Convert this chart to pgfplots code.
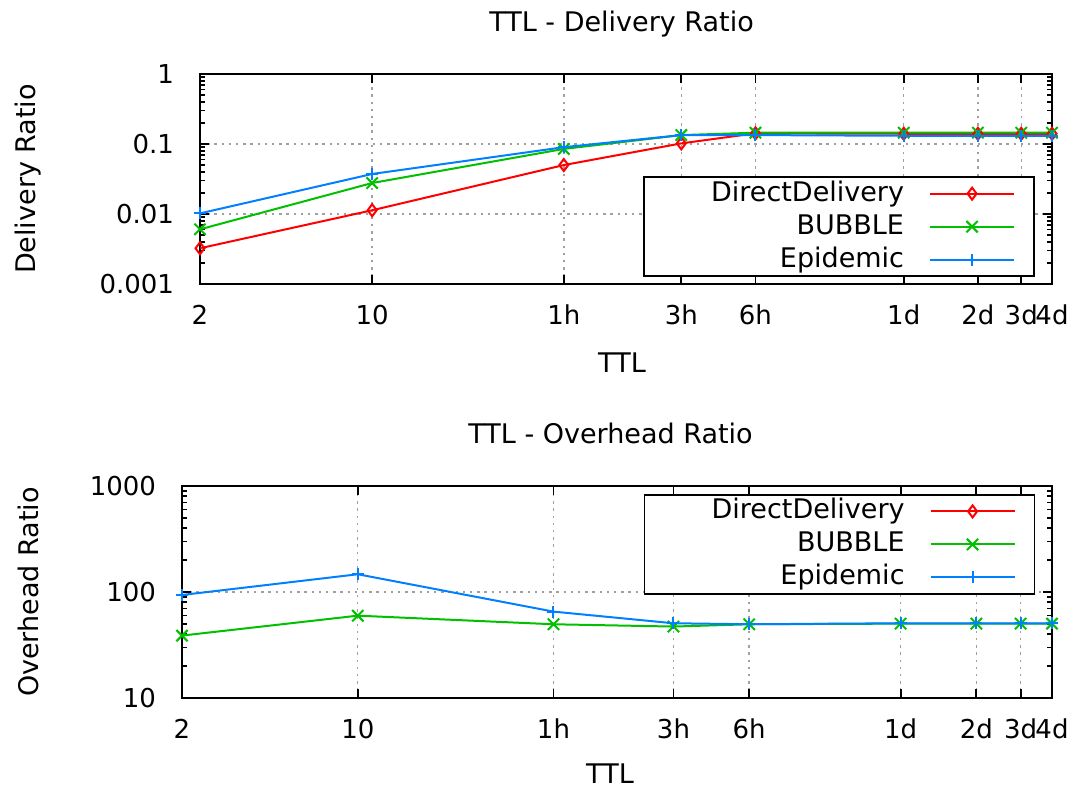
\documentclass[border=0pt]{standalone}
\usepackage{fontspec}
\setmainfont{DejaVu Sans}
\usepackage{pgfplots}
\pgfplotsset{compat=1.18}
\definecolor{gpred}{RGB}{255,0,0}
\definecolor{gpgreen}{RGB}{0,192,0}
\definecolor{gpblue}{RGB}{0,128,255}
\definecolor{gridgray}{RGB}{160,160,160}
\newcommand{\legtxt}[1]{\makebox[120.5pt][r]{#1}}
\tikzset{
  dd/.style={gpred, mark=diamond, mark size=3pt, mark options={solid}},
  bb/.style={gpgreen, mark=x, mark size=4pt, mark options={solid}},
  ep/.style={gpblue, mark=+, mark size=3pt, mark options={solid}},
}
\pgfplotsset{
  legend image code/.code={\draw[mark repeat=2,mark phase=2,#1] plot coordinates {(0pt,0pt) (21pt,0pt) (42pt,0pt)};},
  every axis plot/.append style={line width=1pt},
  tick label style={font=\fontsize{13}{15}\selectfont},
  label style={font=\fontsize{13.5}{16}\selectfont},
  every axis title/.append style={font=\fontsize{13.5}{16}\selectfont},
}
\begin{document}
\begin{tikzpicture}
\path[use as bounding box] (0,0) rectangle (534pt,395pt);
\begin{axis}[
  scale only axis,
  xmode=log, ymode=log,
  xmin=2, xmax=5760,
  xtick={2,10,60,180,360,1440,2880,4320,5760},
  xticklabels={2,10,1h,3h,6h,1d,2d,3d,4d},
  minor xtick={},
  grid=major,
  major grid style={draw=gridgray, line width=0.7pt, dash pattern=on 1.2pt off 2.4pt},
  axis line style={line width=0.9pt},
  every tick/.style={black, line width=0.9pt},
  major tick length=4.5pt, minor tick length=2.5pt,
  tick align=inside,
  /pgf/number format/assume math mode=true,
  yticklabel style={xshift=-9.5pt},
  xticklabel style={yshift=-7pt},
  legend plot pos=right,
  legend cell align=right,
  legend style={font=\fontsize{13.5}{16}\selectfont, draw=black, line width=0.9pt,
    inner xsep=9.5pt, inner ysep=2pt, column sep=12.5pt, row sep=4pt,
    nodes={inner sep=0pt, text height=10pt, text depth=2.5pt},
    at={(axis description cs:0.980,0.033)}, anchor=south east},
  at={(100pt,253pt)}, anchor=south west,
  width=426pt, height=105pt,
  ymin=0.001, ymax=1,
  ytick={0.001,0.01,0.1,1},
  yticklabels={0.001,0.01,0.1,1},
  title={TTL - Delivery Ratio},
  title style={at={(axis description cs:0.5,1)}, anchor=base, yshift=15pt, xshift=-2.25pt},
  xlabel={TTL},
  xlabel style={at={(axis description cs:0.5,0)}, anchor=base, yshift=-44.5pt, xshift=-2pt},
  ylabel={Delivery Ratio},
  ylabel style={at={(axis description cs:-0.2019,0.5)}, anchor=center},
]
\addplot[dd] coordinates {(2,0.00324) (10,0.0113) (60,0.050) (180,0.102) (360,0.142) (1440,0.140) (2880,0.140) (4320,0.140) (5760,0.140)};
\addlegendentry{\legtxt{DirectDelivery}}
\addplot[bb] coordinates {(2,0.00604) (10,0.0277) (60,0.085) (180,0.134) (360,0.145) (1440,0.145) (2880,0.145) (4320,0.145) (5760,0.145)};
\addlegendentry{\legtxt{BUBBLE}}
\addplot[ep] coordinates {(2,0.0102) (10,0.0373) (60,0.090) (180,0.134) (360,0.134) (1440,0.131) (2880,0.131) (4320,0.131) (5760,0.131)};
\addlegendentry{\legtxt{Epidemic}}
\end{axis}
\begin{axis}[
  scale only axis,
  xmode=log, ymode=log,
  xmin=2, xmax=5760,
  xtick={2,10,60,180,360,1440,2880,4320,5760},
  xticklabels={2,10,1h,3h,6h,1d,2d,3d,4d},
  minor xtick={},
  grid=major,
  major grid style={draw=gridgray, line width=0.7pt, dash pattern=on 1.2pt off 2.4pt},
  axis line style={line width=0.9pt},
  every tick/.style={black, line width=0.9pt},
  major tick length=4.5pt, minor tick length=2.5pt,
  tick align=inside,
  /pgf/number format/assume math mode=true,
  yticklabel style={xshift=-9.5pt},
  xticklabel style={yshift=-7pt},
  legend plot pos=right,
  legend cell align=right,
  legend style={font=\fontsize{13.5}{16}\selectfont, draw=black, line width=0.9pt,
    inner xsep=9.5pt, inner ysep=2pt, column sep=12.5pt, row sep=4pt,
    nodes={inner sep=0pt, text height=10pt, text depth=2.5pt},
    at={(axis description cs:0.981,0.962)}, anchor=north east},
  at={(91pt,46pt)}, anchor=south west,
  width=435pt, height=106pt,
  ymin=10, ymax=1000,
  ytick={10,100,1000},
  yticklabels={10,100,1000},
  title={TTL - Overhead Ratio},
  title style={at={(axis description cs:0.5,1)}, anchor=base, yshift=15pt, xshift=-3.25pt},
  xlabel={TTL},
  xlabel style={at={(axis description cs:0.5,0)}, anchor=base, yshift=-43pt, xshift=-3.5pt},
  ylabel={Overhead Ratio},
  ylabel style={at={(axis description cs:-0.177,0.5)}, anchor=center},
]
\addlegendimage{dd, line width=1pt}
\addlegendentry{\legtxt{DirectDelivery}}
\addplot[bb] coordinates {(2,38.8) (10,59.8) (60,49.6) (180,47.2) (360,49.6) (1440,50.3) (2880,50.3) (4320,50.3) (5760,50.3)};
\addlegendentry{\legtxt{BUBBLE}}
\addplot[ep] coordinates {(2,93.7) (10,147) (60,65.3) (180,50.7) (360,49.6) (1440,50.7) (2880,50.7) (4320,50.7) (5760,50.7)};
\addlegendentry{\legtxt{Epidemic}}
\end{axis}
\end{tikzpicture}
\end{document}
